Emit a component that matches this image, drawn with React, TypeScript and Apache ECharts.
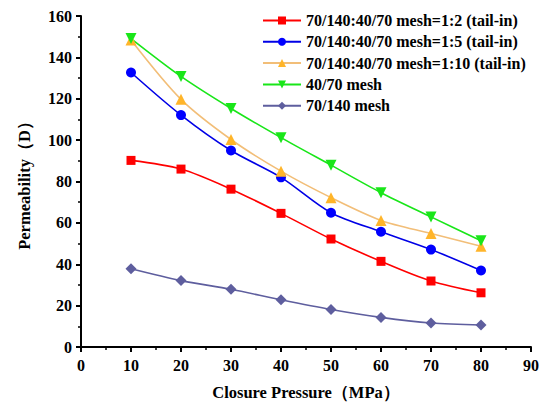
import React, { useEffect, useRef } from "react";
import * as echarts from "echarts";

const pressures = [10, 20, 30, 40, 50, 60, 70, 80];
const ratio12 = [90.2, 86.0, 76.3, 64.6, 52.2, 41.4, 31.9, 26.2];
const ratio15 = [132.7, 112.1, 95.0, 82.0, 64.9, 55.7, 47.1, 37.0];
const ratio110 = [148.4, 119.7, 100.3, 85.0, 72.2, 61.2, 54.9, 48.7];
const mesh4070 = [149.1, 130.8, 115.3, 101.2, 87.9, 74.6, 62.9, 51.4];
const mesh70140 = [37.8, 32.1, 27.9, 22.8, 18.1, 14.3, 11.6, 10.6];

const seriesNames = [
  "70/140:40/70 mesh=1:2 (tail-in)",
  "70/140:40/70 mesh=1:5 (tail-in)",
  "70/140:40/70 mesh=1:10 (tail-in)",
  "40/70 mesh",
  "70/140 mesh",
];

const FONT = "'Liberation Serif', 'Times New Roman', serif";

export default function App() {
  const ref = useRef<HTMLDivElement>(null);
  useEffect(() => {
    if (!ref.current) return;
    const chart = echarts.init(ref.current, undefined, { renderer: "svg" });
    const pts = (arr: number[]) => pressures.map((p, i) => [p, arr[i]]);
    const mk = (
      name: string,
      data: number[],
      lineColor: string,
      markColor: string,
      symbol: string,
      size: number
    ) => ({
      name,
      type: "line",
      data: pts(data),
      smooth: 0.3,
      symbol,
      symbolSize: size,
      showSymbol: true,
      lineStyle: { color: lineColor, width: 1.6 },
      itemStyle: { color: markColor },
      emphasis: { disabled: true },
    });
    chart.setOption({
      animation: false,
      backgroundColor: "#ffffff",
      textStyle: { fontFamily: FONT },
      grid: { left: 63, right: 5, top: 5, bottom: 49, containLabel: false },
      legend: {
        orient: "vertical",
        left: 254,
        top: 4.5,
        padding: 0,
        itemWidth: 38,
        itemHeight: 10,
        itemGap: 5.3,
        textStyle: {
          fontFamily: FONT,
          fontWeight: "bold",
          fontSize: 16,
          color: "#000",
          lineHeight: 16,
        },
        data: seriesNames,
      },
      xAxis: {
        type: "value",
        min: 0,
        max: 90,
        interval: 10,
        splitLine: { show: false },
        axisLine: { onZero: false, lineStyle: { color: "#000", width: 2 } },
        axisTick: { inside: false, length: 5, lineStyle: { width: 2, color: "#000" } },
        minorTick: { show: true, splitNumber: 2, length: 3, lineStyle: { width: 1.5, color: "#000" } },
        axisLabel: { color: "#000", fontSize: 16, fontWeight: "bold", fontFamily: FONT, margin: 10 },
        name: "Closure Pressure（MPa）",
        nameLocation: "middle",
        nameGap: 37,
        nameTextStyle: { color: "#000", fontSize: 16.5, fontWeight: "bold", fontFamily: FONT },
      },
      yAxis: {
        type: "value",
        min: 0,
        max: 160,
        interval: 20,
        splitLine: { show: false },
        axisLine: { show: true, lineStyle: { color: "#000", width: 2 } },
        axisTick: { show: true, inside: false, length: 5, lineStyle: { width: 2, color: "#000" } },
        minorTick: { show: true, splitNumber: 2, length: 3, lineStyle: { width: 1.5, color: "#000" } },
        axisLabel: { color: "#000", fontSize: 16, fontWeight: "bold", fontFamily: FONT, margin: 9 },
        name: "Permeability（D）",
        nameLocation: "middle",
        nameGap: 48,
        nameTextStyle: { color: "#000", fontSize: 16.5, fontWeight: "bold", fontFamily: FONT },
      },
      series: [
        mk(seriesNames[0], ratio12, "#FF0000", "#FF0000", "rect", 9),
        mk(seriesNames[1], ratio15, "#0000E6", "#0000FF", "circle", 10),
        mk(seriesNames[2], ratio110, "#F2BE78", "#FFB52A", "triangle", 11),
        mk(seriesNames[3], mesh4070, "#19E619", "#19E619", "path://M0,0 L10,0 L5,9 Z", 11),
        mk(seriesNames[4], mesh70140, "#5E5E9E", "#5E5E9E", "diamond", 11),
      ],
    });
    return () => chart.dispose();
  }, []);
  return <div ref={ref} style={{ width: 534, height: 398 }} />;
}
